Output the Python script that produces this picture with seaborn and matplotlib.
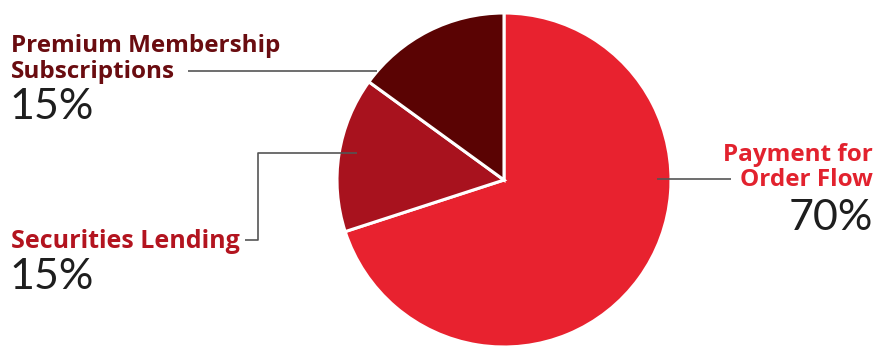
import matplotlib
matplotlib.use("Agg")
import matplotlib.pyplot as plt
import seaborn as sns

# data
categories = ["Payment for\nOrder Flow", "Securities Lending", "Premium Membership\nSubscriptions"]
shares = [70, 15, 15]
pct_labels = ["70%", "15%", "15%"]

slice_colors = ["#E8222F", "#A8121E", "#5A0303"]
label_colors = ["#E2222E", "#B3141F", "#6A0C10"]

sns.set_theme(style="white")
plt.rcParams["font.family"] = ["Open Sans", "DejaVu Sans"]

W, H = 877, 348
fig = plt.figure(figsize=(W / 100, H / 100), dpi=100)
ax = fig.add_axes([0, 0, 1, 1])

def Y(py):
    return H - py

ax.pie(shares, colors=slice_colors, startangle=90, counterclock=False,
       center=(504, Y(180)), radius=167, frame=True,
       wedgeprops=dict(edgecolor="white", linewidth=2.2))
ax.set_xlim(0, W)
ax.set_ylim(0, H)
ax.set_aspect("equal")
ax.axis("off")

line_kw = dict(color="#555555", linewidth=1.2, solid_capstyle="butt")
# leader lines
ax.plot([188, 377], [Y(71), Y(71)], **line_kw)
ax.plot([245, 258, 258, 357], [Y(240), Y(240), Y(153), Y(153)], **line_kw)
ax.plot([657, 731], [Y(179), Y(179)], **line_kw)

title_kw = dict(fontsize=17.5, fontweight="bold", va="baseline")
pct_kw = dict(fontsize=31, fontweight="normal", color="#1E1E1E", va="baseline",
              family=["Lato", "DejaVu Sans"])

# Premium
ax.text(11, Y(52), "Premium Membership", color=label_colors[2], ha="left", **title_kw)
ax.text(11, Y(78), "Subscriptions", color=label_colors[2], ha="left", **title_kw)
ax.text(9, Y(119), pct_labels[2], ha="left", **pct_kw)

# Securities
ax.text(11, Y(248), categories[1], color=label_colors[1], ha="left", fontsize=18,
        fontweight="bold", va="baseline")
ax.text(9, Y(289), pct_labels[1], ha="left", **pct_kw)

# Payment
ax.text(873, Y(161), "Payment for", color=label_colors[0], ha="right", **title_kw)
ax.text(873, Y(186), "Order Flow", color=label_colors[0], ha="right", **title_kw)
ax.text(873, Y(230), pct_labels[0], ha="right", **pct_kw)

fig.savefig("out.png", dpi=100, facecolor="white")
